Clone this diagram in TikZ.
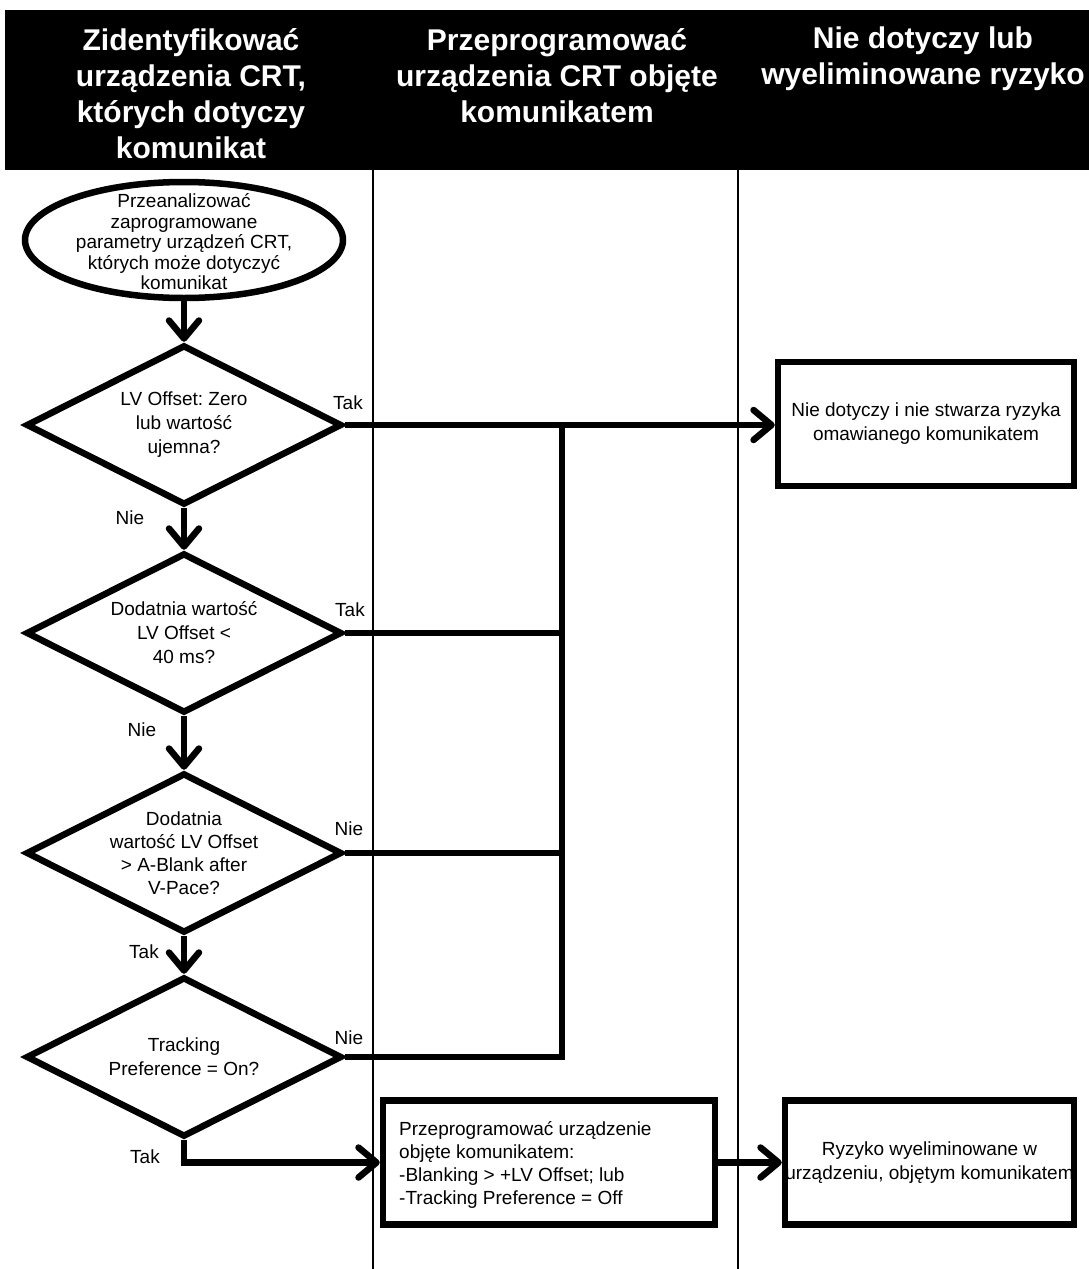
\documentclass[tikz,border=0pt]{standalone}
\usepackage{fontspec}
\setmainfont{Liberation Sans}
\usetikzlibrary{shapes.geometric,arrows.meta}
\frenchspacing
\begin{document}
\begin{tikzpicture}[x=1pt,y=-1pt,
  every node/.style={font=\fontsize{19}{24}\selectfont, inner sep=0pt},
  conn/.style={line width=6.5pt, line join=miter},
  arr/.style={-{Straight Barb[length=18pt,width=30pt,round]}},
  lane/.style={line width=1.6pt},
  boxshape/.style={draw, line width=6.5pt, rectangle, minimum height=124pt},
  diashape/.style={draw, diamond, line width=6.5pt, minimum width=316pt, minimum height=160pt},
  ellshape/.style={draw, ellipse, line width=6.5pt, minimum width=318pt, minimum height=116pt},
  ctext/.style={align=center},
  htext/.style={align=center, text=white, font=\bfseries\fontsize{30}{36}\selectfont},
  lbl/.style={}
]
\useasboundingbox (0,0) rectangle (1089,1269);
% header
\fill[black] (5,10) rectangle (1089,170);
\node[htext] (h1) at (191,94) {Zidentyfikować\\urządzenia CRT,\\których dotyczy\\komunikat};
\node[htext] (h2) at (557,76) {Przeprogramować\\urządzenia CRT objęte\\komunikatem};
\node[htext] (h3) at (923,59) {Nie dotyczy lub\\wyeliminowane ryzyko};
% lanes
\draw[lane] (373,170) -- (373,1269);
\draw[lane] (738,170) -- (738,1269);
% shapes
\node[ellshape] (ell) at (184,240) {};
\node[ctext, font=\fontsize{19}{20.5}\selectfont] (ellt) at (184,242) {Przeanalizować\\zaprogramowane\\parametry urządzeń CRT,\\których może dotyczyć\\komunikat};
\node[diashape] (d1) at (184,425) {};
\node[ctext] (d1t) at (d1.center) {LV Offset: Zero\\lub wartość\\ujemna?};
\node[diashape] (d2) at (184,633) {};
\node[ctext] (d2t) at (d2.center) {Dodatnia wartość\\LV Offset <\\40 ms?};
\node[diashape] (d3) at (184,853) {};
\node[ctext, font=\fontsize{19}{23}\selectfont] (d3t) at (d3.center) {Dodatnia\\wartość LV Offset\\> A-Blank after\\V-Pace?};
\node[diashape] (d4) at (184,1057) {};
\node[ctext] (d4t) at (d4.center) {Tracking\\Preference = On?};
\node[boxshape, minimum width=296pt] (b1) at (926,424) {};
\node[ctext] (b1t) at (b1.center) {Nie dotyczy i nie stwarza ryzyka\\omawianego komunikatem};
\node[boxshape, minimum width=332pt] (b2) at (549,1162.5) {};
\node[align=left, anchor=west, font=\fontsize{19}{23}\selectfont] (b2t) at (399,1165) {Przeprogramować urządzenie\\objęte komunikatem:\\-Blanking > +LV Offset; lub\\-Tracking Preference = Off};
\node[boxshape, minimum width=289pt] (b3) at (929.5,1162.5) {};
\node[ctext] (b3t) at (b3.center) {Ryzyko wyeliminowane w\\urządzeniu, objętym komunikatem};
% junction
\coordinate (jtop) at (562,425);
\coordinate (jbot) at (562,1057);
% connectors
\draw[conn,arr] (ell) -- (d1);
\draw[conn,arr] (d1) -- (d2);
\draw[conn,arr] (d2) -- (d3);
\draw[conn,arr] (d3) -- (d4);
\draw[conn,arr] (d1.east) -- (d1.east -| b1.west);
\draw[conn] (d2.east) -- (d2.east -| jtop);
\draw[conn] (d3.east) -- (d3.east -| jtop);
\draw[conn] (d4.east) -- (jbot) -- (jtop);
\draw[conn,arr] (d4.south) |- (b2.west);
\draw[conn,arr] (b2) -- (b3);
% labels
\node[lbl] (l1) at (348,403) {Tak};
\node[lbl] (l2) at (130,518) {Nie};
\node[lbl] (l3) at (350,610) {Tak};
\node[lbl] (l4) at (142,730) {Nie};
\node[lbl] (l5) at (349,829) {Nie};
\node[lbl] (l6) at (144,952) {Tak};
\node[lbl] (l7) at (349,1038) {Nie};
\node[lbl] (l8) at (145,1157) {Tak};
\end{tikzpicture}
\end{document}
